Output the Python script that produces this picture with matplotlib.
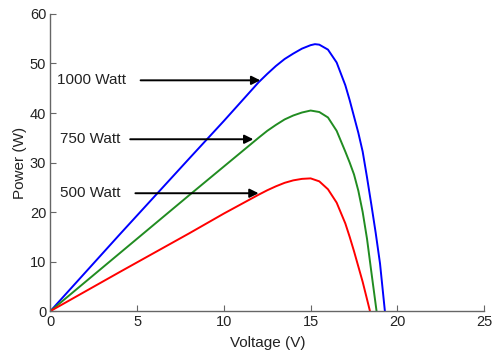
import numpy as np
import matplotlib.pyplot as plt

# Courbes P-V (tension en V, puissance en W)
v_1000 = [0, 4, 8, 10, 11, 12, 12.5, 13, 13.5, 14, 14.5, 15, 15.25, 15.5, 16, 16.5, 17,
          17.25, 17.5, 17.75, 18, 18.25, 18.5, 18.75, 19, 19.28]
p_1000 = [0, 15.5, 30.8, 38.4, 42.3, 46.2, 47.9, 49.5, 50.9, 52.0, 53.0, 53.7, 53.9, 53.8, 52.8, 50.2, 45.6,
          42.6, 39.3, 36.0, 32.2, 27.0, 21.5, 15.8, 9.6, 0]

v_750 = [0, 4, 8, 10, 11, 12, 12.5, 13, 13.5, 14, 14.5, 15, 15.5, 16, 16.5, 17,
         17.25, 17.5, 17.75, 18, 18.25, 18.5, 18.8]
p_750 = [0, 11.7, 23.4, 29.2, 32.1, 35.0, 36.4, 37.6, 38.7, 39.5, 40.1, 40.5, 40.2, 39.1, 36.4, 32.2,
         30.0, 27.6, 24.3, 20.0, 14.6, 7.9, 0]

v_500 = [0, 4, 8, 10, 11, 12, 12.5, 13, 13.5, 14, 14.5, 15, 15.5, 16, 16.5, 17,
         17.25, 17.5, 17.75, 18, 18.2, 18.42]
p_500 = [0, 7.9, 15.7, 19.7, 21.6, 23.5, 24.4, 25.2, 25.9, 26.4, 26.7, 26.8, 26.2, 24.6, 21.9, 17.7,
         15.0, 12.1, 9.0, 5.9, 3.1, 0]

# étiquettes et flèches : (texte, x texte, y, x début flèche, x fin flèche)
labels = ["1000 Watt", "750 Watt", "500 Watt"]
label_x = [0.37, 0.55, 0.55]
label_y = [46.6, 34.7, 23.8]
arrow_start = [5.2, 4.6, 4.9]
arrow_end = [12.1, 11.7, 12.0]

plt.rcParams['font.family'] = ['Liberation Sans', 'DejaVu Sans']

fig = plt.figure(figsize=(4.94, 3.58), dpi=100)
ax = fig.add_axes([0.102, 0.131, 0.878, 0.830])

ax.plot(v_1000, p_1000, color=(0, 0, 1), lw=1.4)
ax.plot(v_750, p_750, color=(0.13, 0.55, 0.13), lw=1.4)
ax.plot(v_500, p_500, color=(1, 0, 0), lw=1.4)

for txt, tx, ty, xs, xe in zip(labels, label_x, label_y, arrow_start, arrow_end):
    ax.text(tx, ty, txt, fontsize=11, color='#222222', ha='left', va='center')
    ax.annotate('', xy=(xe, ty), xytext=(xs, ty),
                arrowprops=dict(arrowstyle='-|>', color='black', lw=1.4,
                                mutation_scale=13, shrinkA=0, shrinkB=0))

ax.set_xlim(0, 25)
ax.set_ylim(0, 60)
ax.set_xticks(np.arange(0, 26, 5))
ax.set_yticks(np.arange(0, 61, 10))
ax.spines['top'].set_visible(False)
ax.spines['right'].set_visible(False)
for s in ['left', 'bottom']:
    ax.spines[s].set_color('#666666')
    ax.spines[s].set_linewidth(1.0)
ax.tick_params(direction='in', length=4, color='#666666', labelsize=10.5,
               labelcolor='#222222', pad=3)
ax.set_xlabel('Voltage (V)', fontsize=11, color='#222222', labelpad=5)
ax.set_ylabel('Power (W)', fontsize=11, color='#222222', labelpad=2)

fig.savefig('out.png', dpi=100)
